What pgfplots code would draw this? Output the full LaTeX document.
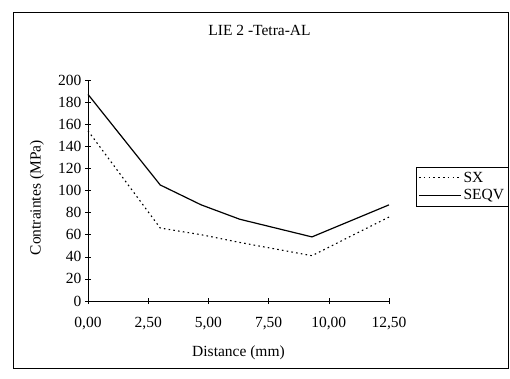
\documentclass[border=0pt]{standalone}
\usepackage{fontspec}
\setmainfont{Liberation Serif}
\usepackage{pgfplots}
\pgfplotsset{compat=1.18}
\begin{document}
\begin{tikzpicture}[x=1pt,y=1pt]
\useasboundingbox (0,0) rectangle (510,378);
% outer frame
\draw[black,line width=0.8pt] (13,366) rectangle (508.5,10);
% title
\node[font=\fontsize{15.5}{17}\selectfont] at (259.5,348) {LIE 2 -Tetra-AL};
\begin{axis}[
  at={(88pt,77pt)}, anchor=south west,
  width=301pt, height=221pt, scale only axis,
  xmin=0, xmax=12.5, ymin=0, ymax=200,
  axis x line=bottom, axis y line=left,
  axis line style={-, black, line width=0.8pt},
  xtick={0,2.5,5,7.5,10,12.5},
  xticklabels={{0,00},{2,50},{5,00},{7,50},{10,00},{12,50}},
  ytick={0,20,...,200},
  tick align=center, major tick length=6pt,
  tick style={black, line width=0.6pt},
  /pgf/number format/assume math mode=true,
  ticklabel style={font=\fontsize{15.5}{17}\selectfont},
  xticklabel style={yshift=-10pt},
  xlabel={Distance (mm)},
  ylabel={Contraintes (MPa)},
  label style={font=\fontsize{15.5}{17}\selectfont},
  xlabel style={at={(axis description cs:0.5,-0.235)}, anchor=center},
  ylabel style={at={(axis description cs:-0.17,0.467)}, anchor=center},
  legend style={at={(416pt-88pt,378pt-167pt-77pt)}, anchor=north west, draw=black, line width=0.6pt,
     font=\fontsize{15.5}{16}\selectfont, inner xsep=2pt, inner ysep=2.5pt, row sep=2pt,
     legend cell align=left},
  legend image code/.code={\draw[#1] (0pt,0pt) -- (42pt,0pt);},
  clip=false,
]
\addplot[black, line width=1.1pt, dash pattern=on 1.6pt off 3.2pt] coordinates {
(0,154) (3.0,66) (4.7,60) (6.3,53) (9.3,41) (12.5,76)};
\addlegendentry{SX}
\addplot[black, line width=1.2pt] coordinates {
(0,187) (3.0,105) (4.7,87) (6.3,74) (7.8,66) (9.3,58) (12.5,87)};
\addlegendentry{SEQV}
\end{axis}
\end{tikzpicture}
\end{document}
